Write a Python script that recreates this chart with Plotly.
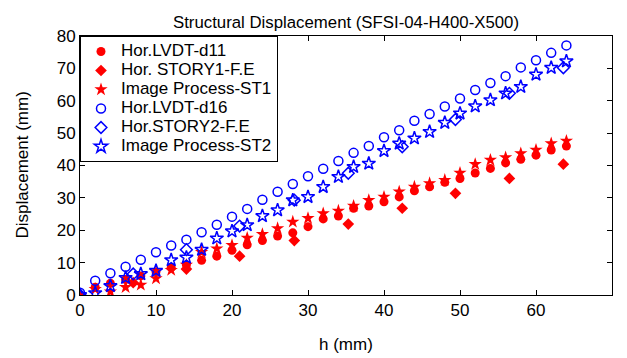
import plotly.graph_objects as go

# ---- data ----
h = [0, 2, 4, 6, 8, 10, 12, 14, 16, 18, 20, 22, 24, 26, 28, 30, 32,
     34, 36, 38, 40, 42, 44, 46, 48, 50, 52, 54, 56, 58, 60, 62, 64]

lvdt_d11 = [0, 2.4, 3.6, 4.8, 5.9, 7.2, 8.5, 9.3, 10.7, 12.0, 13.8, 15.5, 16.8,
            18.2, 19.2, 21.1, 23.5, 24.4, 26.8, 27.5, 28.8, 30.3, 32.2, 33.4,
            34.8, 36.0, 37.7, 39.1, 40.8, 41.9, 43.2, 44.8, 46.0]

img_st1 = [0, 1.8, 1.0, 2.4, 3.1, 5.1, 7.7, 9.3, 13.2, 14.3, 15.4, 17.6, 18.8,
           20.6, 22.6, 23.7, 25.2, 26.0, 27.5, 29.3, 30.3, 31.9, 33.4, 34.5,
           35.5, 37.7, 40.4, 41.7, 42.5, 43.7, 44.8, 46.8, 47.6]

lvdt_d16 = [0.7, 4.4, 6.7, 8.7, 10.9, 13.2, 15.3, 17.1, 19.4, 21.7, 24.2, 26.6,
            29.4, 31.9, 34.3, 36.7, 39.0, 41.4, 43.9, 46.0, 48.7, 50.9, 53.8,
            55.9, 58.2, 60.7, 63.3, 65.5, 67.6, 70.3, 72.5, 74.8, 77.1]

img_st2 = [0, 0.6, 2.8, 5.3, 6.5, 7.5, 10.8, 11.6, 14.0, 17.5, 19.7, 21.6, 24.4,
           26.2, 29.3, 30.3, 33.4, 36.5, 39.6, 40.6, 44.5, 46.8, 48.4, 50.4,
           53.2, 56.1, 58.3, 60.2, 62.3, 64.3, 68.1, 70.2, 72.2]

h_fe = [0, 7, 14, 21, 28.2, 35.3, 42.4, 49.4, 56.5, 63.6]
story1_fe = [0, 3.8, 8.0, 12.0, 16.8, 21.9, 26.8, 31.4, 36.0, 40.4]
story2_fe = [0, 6.5, 14.0, 21.3, 29.3, 37.6, 45.8, 54.2, 62.3, 70.2]

x_ticks = [0, 10, 20, 30, 40, 50, 60, 70]
y_ticks = [0, 10, 20, 30, 40, 50, 60, 70, 80]

series_names = ["Hor.LVDT-d11", "Hor. STORY1-F.E", "Image Process-ST1",
                "Hor.LVDT-d16", "Hor.STORY2-F.E", "Image Process-ST2"]

RED = "#ff0000"
BLUE = "#0000ff"
FONT = "Liberation Sans, Arial"


def lname(s):
    return '<span style="font-size:17px">' + s + '</span>'


fig = go.Figure()
fig.add_trace(go.Scatter(x=h, y=lvdt_d11, mode="markers", name=lname(series_names[0]),
                         marker=dict(symbol="circle", size=9, color=RED)))
fig.add_trace(go.Scatter(x=h_fe, y=story1_fe, mode="markers", name=lname(series_names[1]),
                         marker=dict(symbol="diamond", size=9, color=RED)))
fig.add_trace(go.Scatter(x=h, y=img_st1, mode="markers", name=lname(series_names[2]),
                         marker=dict(symbol="star", size=10, color=RED)))
fig.add_trace(go.Scatter(x=h, y=lvdt_d16, mode="markers", name=lname(series_names[3]),
                         marker=dict(symbol="circle-open", size=9, color=BLUE,
                                     line=dict(width=1.5, color=BLUE))))
fig.add_trace(go.Scatter(x=h_fe, y=story2_fe, mode="markers", name=lname(series_names[4]),
                         marker=dict(symbol="diamond-open", size=9, color=BLUE,
                                     line=dict(width=1.5, color=BLUE))))
fig.add_trace(go.Scatter(x=h, y=img_st2, mode="markers", name=lname(series_names[5]),
                         marker=dict(symbol="star-open", size=10, color=BLUE,
                                     line=dict(width=1.5, color=BLUE))))

axis_common = dict(
    showgrid=False, zeroline=False, showline=True, linecolor="black", linewidth=1,
    mirror="ticks", ticks="inside", ticklen=5, tickcolor="black",
    tickfont=dict(family=FONT, size=17, color="black"),
    automargin=False,
)

# page body has an 8px default margin; plot area placed to match the reference
fig.update_layout(
    width=611, height=350,
    margin=dict(l=72, r=7, t=28, b=63),
    paper_bgcolor="white", plot_bgcolor="white",
    font=dict(family=FONT, color="black"),
    title=dict(text="Structural Displacement (SFSI-04-H400-X500)",
               xref="paper", x=0.5, xanchor="center", yref="paper", y=1.0,
               yanchor="bottom", pad=dict(b=8),
               font=dict(size=16.8, color="black")),
    xaxis=dict(range=[0, 70], tickvals=x_ticks, **axis_common),
    yaxis=dict(range=[0, 80], tickvals=y_ticks, **axis_common),
    legend=dict(x=0, y=1, xanchor="left", yanchor="top",
                bgcolor="white", bordercolor="black", borderwidth=1,
                font=dict(size=12, color="black"), tracegroupgap=0,
                itemwidth=30),
    showlegend=True,
    annotations=[
        dict(text="h (mm)", xref="paper", yref="paper", x=0.5, y=-0.19,
             xanchor="center", yanchor="middle", showarrow=False,
             font=dict(size=17, color="black")),
        dict(text="Displacement (mm)", xref="paper", yref="paper", x=-0.109, y=0.5,
             xanchor="center", yanchor="middle", showarrow=False, textangle=-90,
             font=dict(size=17, color="black")),
    ],
)

fig.write_html("out.html")
